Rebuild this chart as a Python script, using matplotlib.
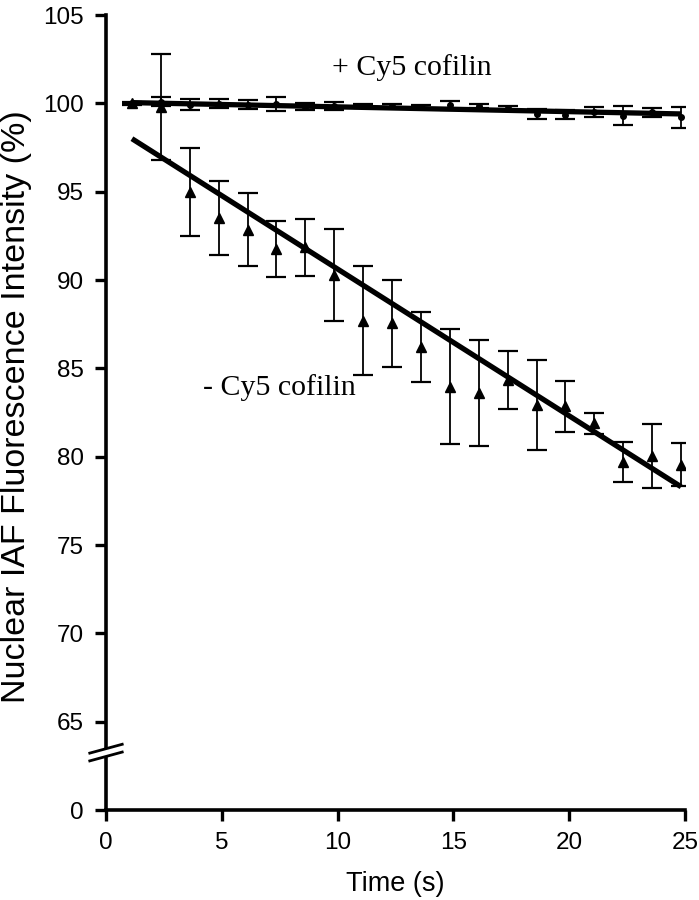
import matplotlib
matplotlib.use("Agg")
import matplotlib.pyplot as plt
import numpy as np
from matplotlib.lines import Line2D
from matplotlib.patches import Rectangle

# ---- data ----
time_s = [1.12, 2.37, 3.62, 4.86, 6.11, 7.36, 8.61, 9.86, 11.1, 12.35,
          13.6, 14.85, 16.1, 17.34, 18.59, 19.84, 21.09, 22.34, 23.58, 24.83]

minus_mean = [100.0, 99.8, 95.0, 93.5, 92.85, 91.75, 91.85, 90.3, 87.7, 87.55,
              86.2, 83.95, 83.6, 84.35, 82.95, 82.85, 81.9, 79.7, 80.05, 79.55]
minus_err = [0.0, 3.0, 2.5, 2.1, 2.05, 1.6, 1.6, 2.6, 3.1, 2.45,
             2.0, 3.25, 3.0, 1.65, 2.55, 1.45, 0.6, 1.15, 1.8, 1.2]

plus_mean = [100.0, 100.1, 99.92, 99.97, 99.92, 99.94, 99.8, 99.83, 99.85, 99.85,
             99.8, 99.9, 99.85, 99.75, 99.4, 99.35, 99.5, 99.3, 99.5, 99.2]
plus_err = [0.1, 0.25, 0.3, 0.25, 0.25, 0.4, 0.2, 0.22, 0.1, 0.1,
            0.1, 0.25, 0.1, 0.1, 0.3, 0.25, 0.3, 0.55, 0.25, 0.6]

# linear fits (slope, intercept)
fit_minus = (-0.831, 98.93)
fit_plus = (-0.027, 100.07)

y_ticks = [60, 65, 70, 75, 80, 85, 90, 95, 100, 105]
y_tick_labels = ["0", "65", "70", "75", "80", "85", "90", "95", "100", "105"]
x_ticks = [0, 5, 10, 15, 20, 25]

# ---- figure ----
fig = plt.figure(figsize=(6.99, 9.0), dpi=100)
ax = fig.add_axes([106 / 699, 90 / 900, (685 - 106) / 699, (810 - 15) / 900])

t = np.array(time_s)

ax.errorbar(t, minus_mean, yerr=minus_err, fmt='^', color='black', ms=7,
            ecolor='black', elinewidth=1.3, capsize=7, capthick=1.6, zorder=3)
ax.errorbar(t, plus_mean, yerr=plus_err, fmt='o', color='black', ms=4,
            ecolor='black', elinewidth=1.3, capsize=7, capthick=1.6, zorder=3)

xf = np.array([t[0], t[-1]])
ax.plot(xf, fit_minus[0] * xf + fit_minus[1], color='black', lw=3.8,
        solid_capstyle='butt', zorder=4)
ax.plot(xf, fit_plus[0] * xf + fit_plus[1], color='black', lw=3.8,
        solid_capstyle='butt', zorder=4)

ax.set_xlim(0, 25)
ax.set_ylim(60, 105)
ax.set_xticks(x_ticks)
ax.set_yticks(y_ticks)
ax.set_yticklabels(y_tick_labels)

sans = ['Liberation Sans', 'DejaVu Sans']
serif = ['Liberation Serif', 'DejaVu Serif']
for lab in ax.get_xticklabels() + ax.get_yticklabels():
    lab.set_fontfamily(sans)
    lab.set_fontsize(17.5)

ax.tick_params(axis='both', direction='out', length=8, width=2.4, pad=8)
for s in ['top', 'right']:
    ax.spines[s].set_visible(False)
for s in ['left', 'bottom']:
    ax.spines[s].set_linewidth(2.6)

ax.set_xlabel('Time (s)', fontfamily=sans, fontsize=19.5, labelpad=12)
fig.text(17 / 699, 1 - 407 / 900, 'Nuclear IAF Fluorescence Intensity (%)',
         fontfamily=sans, fontsize=24.5, rotation=90, ha='center', va='center')

fig.text(332 / 699, 1 - 68 / 900, '+ Cy5 cofilin', fontfamily=serif,
         fontsize=21.5, va='center', ha='left')
fig.text(203 / 699, 1 - 388 / 900, '- Cy5 cofilin', fontfamily=serif,
         fontsize=21.5, va='center', ha='left')

# axis break marks
trans = ax.get_yaxis_transform()
yb = 63.25
ax.add_patch(Rectangle((-0.01, yb - 0.18), 0.02, 0.36, transform=trans,
                       facecolor='white', edgecolor='none', clip_on=False, zorder=5))
for dy in (0.22, -0.22):
    ax.add_line(Line2D([-0.028, 0.028], [yb + dy - 0.25, yb + dy + 0.25],
                       transform=trans, color='black', lw=2.0,
                       clip_on=False, zorder=6))

fig.savefig('out.png', dpi=100)
